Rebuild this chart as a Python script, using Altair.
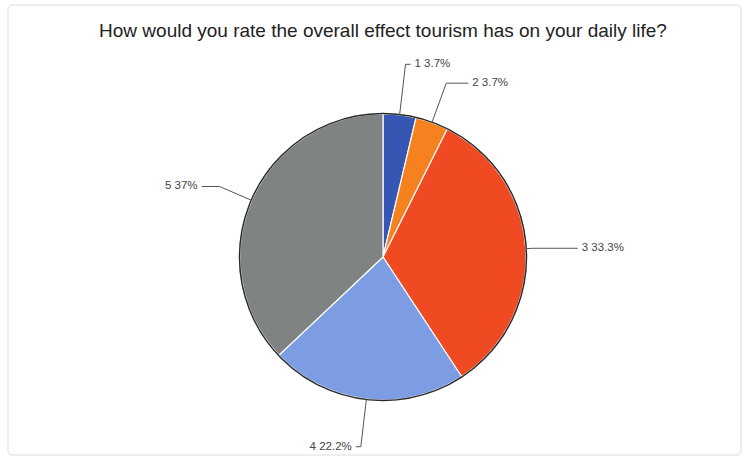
import altair as alt
import pandas as pd

# data
categories = ["1", "2", "3", "4", "5"]
counts = [1, 1, 9, 6, 10]
colors = ["#3656b4", "#f6821f", "#f04a23", "#7c9de2", "#7f8482"]
title_text = "How would you rate the overall effect tourism has on your daily life?"

# layout for leader lines (pixels)
elbow_radius = [194, 185, 150, 191, 178]
tail_length = [5, 22, 45, 5, 18]
CX, CY, R = 383, 257, 143

df = pd.DataFrame({
    "category": categories,
    "value": counts,
    "er": elbow_radius,
    "tl": tail_length,
})

base = alt.Chart(df)

frame = alt.Chart(pd.DataFrame({"a": [0]})).mark_rect(
    fill="white", stroke="#dcdcdc", strokeWidth=1, cornerRadius=4
).encode(x=alt.value(8), x2=alt.value(741), y=alt.value(5), y2=alt.value(455))

pie = base.mark_arc(radius=R, stroke="white", strokeWidth=1.2).encode(
    theta=alt.Theta("value:Q", stack=True),
    order=alt.Order("category:N", sort="ascending"),
    color=alt.Color("category:N", scale=alt.Scale(domain=categories, range=colors), legend=None),
    x=alt.value(CX),
    y=alt.value(CY),
)

outline = alt.Chart(pd.DataFrame({"a": [0]})).mark_arc(
    theta=0, theta2=6.2832, radius=R + 0.5, filled=False, fillOpacity=0,
    stroke="#2a2a2a", strokeWidth=1.5
).encode(x=alt.value(CX), y=alt.value(CY))

geo = base.transform_joinaggregate(
    total="sum(value)"
).transform_window(
    cum="sum(value)", sort=[alt.SortField("category", order="ascending")], frame=[None, 0]
).transform_calculate(
    mid="(datum.cum - datum.value/2) / datum.total * 2 * PI",
    pct="round(datum.value / datum.total * 1000) / 10",
).transform_calculate(
    side="sin(datum.mid) >= 0 ? 1 : -1",
    ex=f"{CX} + {R} * sin(datum.mid)",
    ey=f"{CY} - {R} * cos(datum.mid)",
    bx=f"{CX} + datum.er * sin(datum.mid)",
    by=f"{CY} - datum.er * cos(datum.mid)",
).transform_calculate(
    tx="datum.bx + datum.side * datum.tl",
    lx="datum.bx + datum.side * (datum.tl + 4)",
    label="datum.category + ' ' + datum.pct + '%'",
)

seg1 = geo.mark_rule(color="#555555", strokeWidth=1).encode(
    x=alt.X("ex:Q", scale=None), y=alt.Y("ey:Q", scale=None),
    x2="bx:Q", y2="by:Q",
)
seg2 = geo.mark_rule(color="#555555", strokeWidth=1).encode(
    x=alt.X("bx:Q", scale=None), y=alt.Y("by:Q", scale=None),
    x2="tx:Q", y2="by:Q",
)

text_right = geo.transform_filter("datum.side > 0").mark_text(
    align="left", baseline="middle", fontSize=11.5, font="Liberation Sans", color="#444444"
).encode(x=alt.X("lx:Q", scale=None), y=alt.Y("by:Q", scale=None), text="label:N")

text_left = geo.transform_filter("datum.side < 0").mark_text(
    align="right", baseline="middle", fontSize=11.5, font="Liberation Sans", color="#444444"
).encode(x=alt.X("lx:Q", scale=None), y=alt.Y("by:Q", scale=None), text="label:N")

title = alt.Chart(pd.DataFrame({"a": [0]})).mark_text(
    fontSize=19, font="Liberation Sans", color="#222222", align="center", baseline="middle"
).encode(x=alt.value(383), y=alt.value(31), text=alt.value(title_text))

chart = alt.layer(frame, pie, outline, seg1, seg2, text_right, text_left, title).properties(
    width=746, height=463, padding=0, autosize=alt.AutoSizeParams(type="none")
).configure_view(stroke=None)

chart.save("out.html", embed_options={"renderer": "svg", "actions": False})
